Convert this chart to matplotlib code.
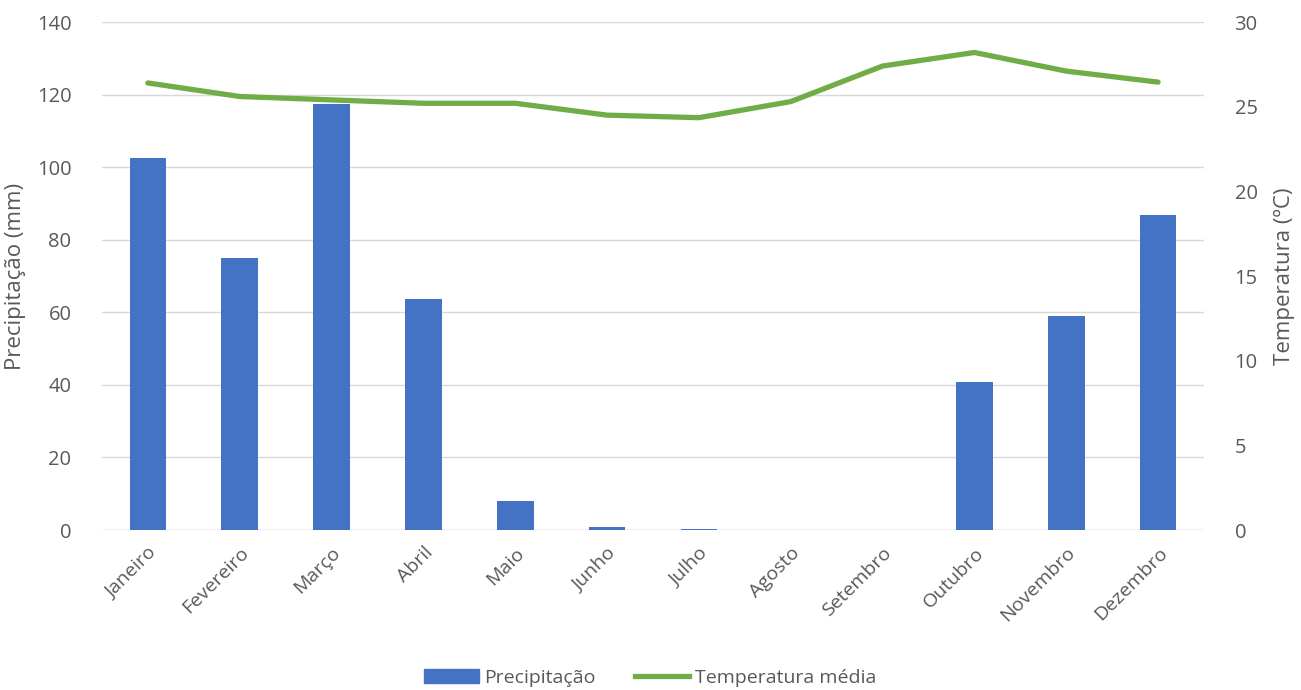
import matplotlib
matplotlib.use("Agg")
import matplotlib.pyplot as plt
from matplotlib.lines import Line2D
from matplotlib.patches import Patch

plt.rcParams['font.family'] = ['Open Sans', 'DejaVu Sans']

meses = ["Janeiro", "Fevereiro", "Março", "Abril", "Maio", "Junho",
         "Julho", "Agosto", "Setembro", "Outubro", "Novembro", "Dezembro"]
precipitacao = [102.5, 75.0, 117.4, 63.7, 8.0, 0.9, 0.2, 0.1, 0.0, 40.8, 59.0, 86.8]
temperatura = [26.4, 25.6, 25.4, 25.2, 25.2, 24.5, 24.35, 25.3, 27.4, 28.2, 27.1, 26.45]

bar_color = "#4472C4"
line_color = "#70AD47"
text_color = "#595959"

fig = plt.figure(figsize=(13.01, 6.90), dpi=100)
ax = fig.add_axes([102/1301, 160/690, 1102/1301, 508/690])
x = list(range(len(meses)))
ax.bar(x, precipitacao, width=0.4, color=bar_color, zorder=2)
ax.set_xlim(-0.5, 11.5)
ax.set_ylim(0, 140)
ax.set_yticks(range(0, 141, 20))
ax.grid(axis='y', color='#D9D9D9', linewidth=1, zorder=0)
for s in ax.spines.values():
    s.set_visible(False)
ax.axhline(0, color='#D9D9D9', linewidth=1, zorder=1)
ax.set_xticks(x)
ax.set_xticklabels(meses, rotation=45, ha='right', rotation_mode='anchor', fontsize=14, color=text_color)
for lbl in ax.get_xticklabels():
    lbl.set_transform(lbl.get_transform() + matplotlib.transforms.ScaledTranslation(0.08, 0, fig.dpi_scale_trans))
ax.tick_params(axis='both', length=0, labelsize=14.5, colors=text_color)
ax.tick_params(axis='x', labelsize=14)
ax.tick_params(axis='y', pad=22)
ax.tick_params(axis='x', pad=10)
ax.set_ylabel("Precipitação (mm)", fontsize=16, color=text_color, labelpad=8)

ax2 = ax.twinx()
ax2.plot(x, temperatura, color=line_color, linewidth=3.8, solid_capstyle='round', zorder=3)
ax2.set_ylim(0, 30)
ax2.set_yticks(range(0, 31, 5))
for s in ax2.spines.values():
    s.set_visible(False)
ax2.tick_params(axis='y', length=0, labelsize=14.5, colors=text_color, pad=22)
ax2.set_ylabel("Temperatura (ºC)", fontsize=16, color=text_color, labelpad=12)

handles = [Patch(color=bar_color, label="Precipitação"),
           Line2D([0], [0], color=line_color, linewidth=3.8, label="Temperatura média")]
fig.legend(handles=handles, loc='center', bbox_to_anchor=(0.5, 1 - 678/690), ncol=2,
           frameon=False, fontsize=14, labelcolor=text_color, handlelength=2.8,
           handletextpad=0.3, columnspacing=2.0)

fig.savefig("out.png", dpi=100)
